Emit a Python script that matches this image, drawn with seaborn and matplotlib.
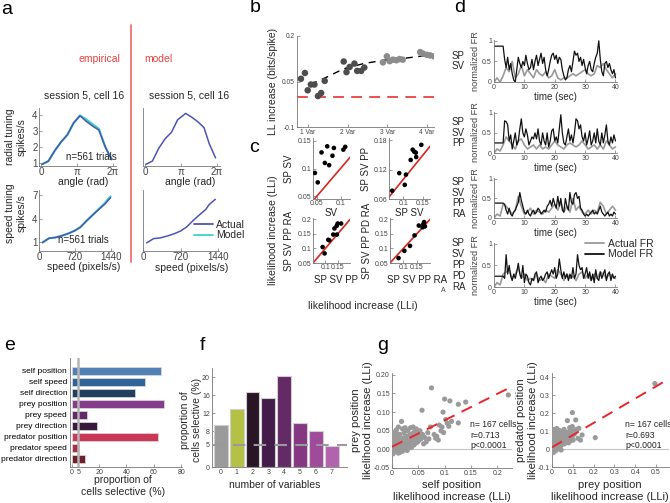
import numpy as np
import matplotlib
matplotlib.use("Agg")
import matplotlib.pyplot as plt
import seaborn as sns
from matplotlib.lines import Line2D

# ---------------- data ----------------
# panel a
ang_x = [0.1, 0.65, 1.2, 1.75, 2.3, 2.85, 3.4, 3.95, 4.5, 5.05, 5.6, 6.15]
rad_emp_actual = [0.9, 1.1, 1.75, 2.3, 2.75, 3.5, 3.95, 3.6, 3.3, 3.05, 2.0, 1.2]
rad_emp_model = [0.9, 1.1, 1.75, 2.3, 2.75, 3.5, 3.97, 3.72, 3.42, 3.12, 2.0, 1.2]
rad_mod_x = [0.1, 0.65, 1.2, 1.75, 2.3, 2.85, 3.55, 4.1, 4.65, 5.15, 5.6, 6.15]
rad_mod_actual = [0.9, 1.1, 1.9, 2.5, 2.9, 3.7, 4.1, 3.85, 3.55, 3.2, 2.2, 1.3]
spd_x = [70, 200, 330, 470, 600, 720, 830, 950, 1080, 1200, 1320, 1430]
spd_emp_actual = [0.9, 1.45, 1.55, 1.8, 2.1, 2.45, 2.9, 3.7, 4.5, 5.2, 5.9, 6.7]
spd_emp_model = [0.9, 1.45, 1.55, 1.8, 2.1, 2.45, 2.9, 3.7, 4.5, 5.28, 6.02, 6.88]
spd_mod_x = [70, 200, 330, 470, 600, 720, 830, 950, 1080, 1200, 1260, 1380]
spd_mod_actual = [0.85, 1.4, 1.5, 1.75, 2.05, 2.4, 2.9, 3.7, 4.5, 5.2, 5.8, 6.5]

# panel b
b_x = [0.82, 0.92, 0.99, 1.07, 1.16, 1.25, 1.33, 1.42,
       1.90, 1.97, 2.05, 2.17, 2.24, 2.34, 2.42,
       2.89, 2.99, 3.06, 3.14, 3.23, 3.31, 3.39,
       3.83, 3.90, 4.00, 4.08, 4.18]
b_y = [0.059, 0.078, 0.021, 0.040, 0.040, 0.002, 0.012, 0.052,
       0.116, 0.081, 0.098, 0.109, 0.085, 0.085, 0.096,
       0.113, 0.133, 0.117, 0.122, 0.120, 0.124, 0.122,
       0.147, 0.142, 0.138, 0.136, 0.133]
b_group = ["low"] * 15 + ["high"] * 12
b_curve_x = [1.06, 1.48, 1.9, 2.4, 2.9, 3.4, 4.0]
b_curve_y = [0.040, 0.065, 0.092, 0.109, 0.120, 0.126, 0.136]
b_ticks = ["1 Var", "2 Var", "3 Var", "4 Var"]

# panel c
c1_x = [0.046, 0.052, 0.060, 0.067, 0.072, 0.076, 0.083, 0.086, 0.106, 0.110]
c1_y = [0.092, 0.075, 0.129, 0.110, 0.140, 0.106, 0.123, 0.137, 0.134, 0.139]
c2_x = [0.072, 0.090, 0.104, 0.107, 0.119, 0.124, 0.128, 0.132, 0.133, 0.146]
c2_y = [0.077, 0.113, 0.089, 0.110, 0.140, 0.161, 0.157, 0.155, 0.146, 0.171]
c3_x = [0.089, 0.097, 0.112, 0.116, 0.132, 0.137, 0.146, 0.150, 0.147, 0.164]
c3_y = [0.105, 0.083, 0.130, 0.128, 0.148, 0.169, 0.178, 0.186, 0.148, 0.186]
c4_x = [0.082, 0.104, 0.125, 0.142, 0.158, 0.172, 0.178, 0.175, 0.181]
c4_y = [0.067, 0.092, 0.109, 0.145, 0.179, 0.173, 0.191, 0.184, 0.176]

# panel d (model: 0.5 s samples, actual: 1 s samples)
d1_model = [0.87, 0.87, 0.87, 0.87, 0.87, 0.87, 0.87,
            0.55, 0.35, 0.6, 0.3, 0.45, 0.2, 0.05, 0.0, 0.3, 0.6, 0.45, 0.35, 0.5, 0.4, 0.65,
            0.45, 0.3, 0.35, 0.55, 0.3, 0.5, 0.65, 0.4, 0.55, 0.7, 0.45, 0.6, 0.3, 0.15, 0.3,
            0.5, 0.65, 0.7, 0.55, 0.65, 0.45, 0.6, 0.55, 0.3, 0.15, 0.05, 0.1, 0.3, 0.4, 0.25,
            0.5, 0.75, 0.65, 0.7, 0.5, 0.6, 0.4, 0.55, 0.35, 0.2, 0.4, 0.5, 0.3, 0.25, 0.45,
            0.6, 0.7, 1.0, 0.55, 0.25, 0.15, 0.45, 0.5, 0.35, 0.45, 0.3, 0.2, 0.3, 0.1]
d1_actual = [0, 0.1, 0.0, 0.15, 0.35, 0.25, 0.5, 0.1, 0.2, 0.4, 0.15, 0.3, 0.2, 0.1, 0.3,
             0.2, 0.15, 0.25, 0.1, 0.15, 0.3, 0.1, 0.05, 0.1, 0.1, 0.15, 0.2, 0.15, 0.2, 0.25,
             0.3, 0.2, 0.15, 0.2, 0.4, 0.35, 0.45, 0.3, 0.2, 0.1, 0.2]
d2_model = [0.25, 0.25, 0.25, 0.25, 0.25, 0.25, 0.25,
            0.8, 0.78, 0.7, 0.3, 0.45, 0.1, 0.3, 0.5, 0.2, 0.3, 0.6, 0.85, 0.5, 0.4, 0.6,
            0.45, 0.2, 0.3, 0.4, 0.35, 0.5, 0.35, 0.6, 0.3, 0.2, 0.5, 0.3, 0.2, 0.5, 0.15,
            0.3, 0.55, 0.6, 0.3, 0.4, 0.25, 0.6, 0.95, 0.5, 0.25, 0.2, 0.4, 0.6, 0.3, 0.45,
            0.25, 0.5, 0.85, 0.8, 0.6, 0.7, 0.4, 0.3, 0.5, 0.2, 0.35, 0.55, 0.2, 0.3, 0.5,
            0.25, 0.6, 0.3, 0.2, 0.5, 0.25, 0.45, 0.7, 0.3, 0.2, 0.4, 0.25, 0.45, 0.3]
d2_actual = [0, 0.1, 0.05, 0.2, 0.4, 0.3, 0.2, 0.1, 0.3, 0.35, 0.2, 0.1, 0.15, 0.2, 0.1,
             0.2, 0.1, 0.15, 0.1, 0.2, 0.3, 0.2, 0.15, 0.1, 0.2, 0.25, 0.2, 0.15, 0.2, 0.3,
             0.2, 0.1, 0.15, 0.2, 0.1, 0.2, 0.1, 0.3, 0.2, 0.1, 0.15]
d3_model = [0.38, 0.38, 0.38, 0.38, 0.38, 0.38, 0.38,
            0.35, 0.2, 0.1, 0.25, 0.1, 0.05, 0.15, 0.2, 0.3, 0.4, 0.65, 0.45, 0.3, 0.15, 0.1,
            0.2, 0.1, 0.05, 0.15, 0.2, 0.1, 0.15, 0.25, 0.2, 0.1, 0.15, 0.2, 0.15, 0.3, 0.35,
            0.45, 0.3, 0.5, 0.35, 0.25, 0.55, 0.3, 0.5, 0.2, 0.15, 0.5, 0.3, 0.2, 0.65, 0.4,
            0.35, 0.6, 0.65, 0.5, 0.55, 0.25, 0.2, 0.1, 0.05, 0.1, 0.05, 0.1, 0.15, 0.2, 0.1,
            0.15, 0.1, 0.2, 0.3, 0.15, 0.1, 0.05, 0.1, 0.15, 0.05, 0.1, 0.05, 0.15, 0.1]
d3_actual = [0, 0.1, 0.05, 0.35, 0.3, 0.2, 0.1, 0.2, 0.55, 0.3, 0.1, 0.15, 0.25, 0.1, 0.2,
             0.15, 0.1, 0.2, 0.15, 0.25, 0.35, 0.2, 0.4, 0.15, 0.3, 0.15, 0.5, 0.2, 0.3, 0.15,
             0.1, 0.2, 0.1, 0.2, 0.15, 0.4, 0.3, 0.1, 0.2, 0.3, 0.2]
d4_model = [0.25, 0.25, 0.25, 0.25, 0.25, 0.25, 0.25,
            0.2, 0.75, 0.3, 0.5, 0.25, 0.15, 0.3, 0.2, 0.35, 0.55, 0.3, 0.2, 0.5, 0.1, 0.3,
            0.25, 0.1, 0.05, 0.2, 0.15, 0.3, 0.35, 0.1, 0.2, 0.25, 0.15, 0.2, 0.3, 0.35, 0.2,
            0.3, 0.4, 0.3, 0.45, 0.2, 0.3, 0.65, 0.4, 0.2, 0.35, 0.2, 0.3, 0.15, 0.3, 0.2,
            0.45, 0.2, 0.3, 0.75, 0.5, 0.4, 0.45, 0.2, 0.3, 0.45, 0.2, 0.35, 0.15, 0.3, 0.1,
            0.4, 0.2, 0.15, 0.35, 0.2, 0.3, 0.4, 0.15, 0.3, 0.35, 0.15, 0.3, 0.2, 0.25]
d4_actual = [0, 0.1, 0.05, 0.3, 0.35, 0.4, 0.2, 0.3, 0.45, 0.2, 0.3, 0.15, 0.2, 0.15, 0.3,
             0.15, 0.2, 0.1, 0.3, 0.25, 0.2, 0.4, 0.3, 0.15, 0.3, 0.2, 0.25, 0.15, 0.3, 0.35,
             0.2, 0.3, 0.15, 0.3, 0.2, 0.35, 0.3, 0.2, 0.3, 0.25, 0.2]
d_labels = ["SP\nSV", "SP\nSV\nPP", "SP\nSV\nPP\nRA", "SP\nSV\nPP\nPD\nRA"]

# panel e
e_names = ["self position", "self speed", "self direction", "prey position", "prey speed",
           "prey direction", "predator position", "predator speed", "predator direction"]
e_vals = [65.5, 53.8, 46.5, 67.6, 10.9, 18.7, 63.3, 5.6, 9.7]
e_colors = ["#3f7fc6", "#1f62aa", "#183f6a", "#912e9b", "#6b2070", "#3e1443",
            "#e2204b", "#b81d3a", "#7c1222"]
e_chance = 5

# panel f
f_labels = ["0", "1", "2", "3", "4", "5", "6", "7"]
f_vals = [9.3, 12.8, 16.6, 15.3, 20.2, 9.8, 8.0, 4.6]
f_colors = ["#9b9b9b", "#c6d62f", "#2b1329", "#4a1550", "#6c206f", "#922a8f", "#ad3ca6", "#c155b8"]
f_chance = 5

# panel g
g1_x = [0.001, 0.002, 0.003, 0.004, 0.005, 0.006, 0.007, 0.008, 0.009, 0.010, 0.011, 0.012, 0.013,
        0.014, 0.015, 0.016, 0.017, 0.018, 0.019, 0.020, 0.021, 0.022, 0.023, 0.024, 0.025, 0.026,
        0.027, 0.028, 0.029, 0.030, 0.031, 0.032, 0.033, 0.034, 0.035, 0.036, 0.037, 0.038, 0.039,
        0.040, 0.041, 0.042, 0.043, 0.044, 0.045, 0.046, 0.047, 0.048, 0.049, 0.050, 0.052, 0.053,
        0.055, 0.057, 0.058, 0.060, 0.062, 0.065, 0.068, 0.070, 0.073, 0.075, 0.080, 0.083, 0.085,
        0.088, 0.090, 0.093, 0.095, 0.097, 0.098, 0.100, 0.102, 0.105, 0.108, 0.110, 0.113, 0.126,
        0.126, 0.140, 0.221, 0.003, 0.008, 0.012, 0.002, 0.015, 0.005, 0.020, 0.025, 0.010]
g1_y = [0.005, 0.020, -0.008, 0.030, 0.012, -0.002, 0.025, 0.008, 0.035, 0.000, 0.018, -0.010, 0.028,
        0.010, 0.040, 0.003, 0.022, 0.075, 0.015, -0.005, 0.030, 0.008, 0.045, 0.018, 0.002, 0.035,
        0.012, 0.025, -0.003, 0.050, 0.020, 0.008, 0.038, 0.015, 0.058, 0.028, 0.005, 0.042, 0.020,
        0.060, 0.032, 0.012, 0.048, 0.025, 0.038, 0.055, 0.018, 0.030, 0.045, 0.022, 0.035, 0.050,
        0.028, 0.105, 0.040, 0.015, 0.032, 0.020, 0.045, 0.028, 0.060, 0.165, 0.040, 0.030, 0.035,
        0.025, 0.065, 0.050, 0.060, 0.100, 0.045, 0.135, 0.080, 0.070, 0.062, 0.130, 0.075, 0.121,
        0.071, 0.127, 0.146, 0.045, 0.052, 0.060, -0.012, -0.008, 0.038, 0.055, 0.058, 0.042]
g1_fit = (0.007, 0.71)
g2_x = [0.002, 0.004, 0.005, 0.006, 0.008, 0.010, 0.011, 0.012, 0.014, 0.015, 0.016, 0.018, 0.019,
        0.020, 0.021, 0.022, 0.024, 0.025, 0.026, 0.028, 0.029, 0.030, 0.031, 0.032, 0.034, 0.035,
        0.036, 0.037, 0.038, 0.040, 0.041, 0.042, 0.043, 0.045, 0.046, 0.047, 0.048, 0.050, 0.051,
        0.052, 0.053, 0.055, 0.056, 0.057, 0.058, 0.060, 0.061, 0.062, 0.063, 0.065, 0.066, 0.068,
        0.070, 0.071, 0.072, 0.074, 0.075, 0.077, 0.078, 0.080, 0.082, 0.084, 0.085, 0.087, 0.088,
        0.090, 0.092, 0.095, 0.098, 0.098, 0.100, 0.102, 0.105, 0.108, 0.114, 0.118, 0.125, 0.129,
        0.137, 0.145, 0.208, 0.495, 0.003, 0.006, 0.009, 0.013, 0.017, 0.023, 0.027, 0.033, 0.039,
        0.044]
g2_y = [0.000, 0.030, -0.015, 0.060, 0.015, 0.095, 0.040, -0.005, 0.070, 0.020, 0.050, 0.100, 0.005,
        0.035, 0.080, 0.060, 0.025, 0.045, 0.090, 0.010, 0.065, 0.040, 0.075, 0.020, 0.055, 0.085,
        0.030, 0.050, 0.068, 0.015, 0.045, 0.080, 0.060, 0.035, 0.090, 0.055, 0.025, 0.070, 0.045,
        0.100, 0.060, 0.040, 0.080, 0.050, 0.110, 0.065, 0.030, 0.090, 0.055, 0.075, 0.045, 0.060,
        0.085, 0.040, 0.070, 0.159, 0.050, 0.095, 0.065, 0.035, 0.080, 0.055, 0.120, 0.070, 0.045,
        0.090, 0.060, 0.105, 0.204, 0.126, 0.075, 0.050, 0.095, 0.085, 0.163, 0.110, 0.060, 0.116,
        0.050, 0.079, 0.064, 0.366, 0.080, -0.020, 0.025, 0.110, -0.010, 0.115, 0.000, 0.105, 0.100,
        -0.005]
g2_fit = (0.01, 0.68)
g_stats = ["n= 167 cells\nr=0.713\np<0.0001", "n= 167 cells\nr=0.693\np<0.0001"]

# ---------------- figure ----------------
sns.set_theme(style="ticks")
plt.rcParams["font.family"] = ["Liberation Sans", "DejaVu Sans"]
W, H = 670, 503
fig = plt.figure(figsize=(6.7, 5.03), dpi=100)
fig.patch.set_facecolor("white")


def AX(l, t, r, b):
    return fig.add_axes([l / W, 1 - b / H, (r - l) / W, (b - t) / H])


def T(x, y, s, **kw):
    kw.setdefault("ha", "center")
    kw.setdefault("va", "center")
    return fig.text(x / W, 1 - y / H, s, **kw)


def style(ax, fs=5.0, pad=1.5):
    sns.despine(ax=ax)
    for s in ["left", "bottom"]:
        ax.spines[s].set_color("#777777")
        ax.spines[s].set_linewidth(0.6)
    ax.tick_params(direction="in", length=2, width=0.5, labelsize=fs, colors="#777777",
                   labelcolor="#444444", pad=pad)
    ax.set_xlabel("")
    ax.set_ylabel("")
    ax.set_facecolor("none")


BLUE = "#4b55b3"
TEAL = "#3fd2c2"
RED = "#e8413f"

# letters
for lx, ly, s in [(7, 9, "a"), (255, 8, "b"), (254, 147, "c"), (460, 8, "d"),
                  (10, 345, "e"), (202, 345, "f"), (383, 345, "g")]:
    T(lx, ly, s, fontsize=14, color="black")

# ---------------- panel a ----------------
fig.add_artist(Line2D([131 / W, 131 / W], [1 - 25 / H, 1 - 262 / H], color="#f07070", lw=1.3))
T(99, 59, "empirical", fontsize=7.5, color=RED)
T(158, 59, "model", fontsize=7.5, color=RED)
T(84, 95, "session 5, cell 16", fontsize=7.5)
T(189, 95, "session 5, cell 16", fontsize=7.5)

ax = AX(39, 108, 116, 166)
sns.lineplot(x=ang_x, y=rad_emp_model, color=TEAL, lw=1.6, ax=ax)
sns.lineplot(x=ang_x, y=rad_emp_actual, color=BLUE, lw=1.1, ax=ax)
ax.set_xlim(-0.17, 6.54)
ax.set_ylim(0.79, 4.44)
ax.set_xticks([0, np.pi, 2 * np.pi], ["0", "π", "2π"])
ax.set_yticks([1, 2, 3, 4])
style(ax, fs=7, pad=1)
ax.text(0.68, 0.15, "n=561 trials", transform=ax.transAxes, fontsize=7, ha="center", va="center")

ax = AX(143, 108, 220, 166)
sns.lineplot(x=rad_mod_x, y=rad_mod_actual, color=BLUE, lw=1.1, ax=ax)
ax.set_xlim(-0.17, 6.54)
ax.set_ylim(0.79, 4.44)
ax.set_xticks([0, np.pi, 2 * np.pi], ["0", "π", "2π"])
ax.set_yticks([])
style(ax, fs=7, pad=1)

T(83, 182, "angle (rad)", fontsize=7.5)
T(190, 182, "angle (rad)", fontsize=7.5)
T(16, 137, "radial tuning\nspikes/s", fontsize=7.5, rotation=90, linespacing=1.2)

ax = AX(39, 190, 113, 251)
sns.lineplot(x=spd_x, y=spd_emp_model, color=TEAL, lw=1.6, ax=ax)
sns.lineplot(x=spd_x, y=spd_emp_actual, color=BLUE, lw=1.1, ax=ax)
ax.set_xlim(0, 1480)
ax.set_ylim(-0.2, 7.7)
ax.set_xticks([0, 720, 1440])
ax.set_yticks([1, 4, 7])
style(ax, fs=7, pad=1)
ax.text(0.6, 0.18, "n=561 trials", transform=ax.transAxes, fontsize=7, ha="center", va="center")

ax = AX(143, 190, 219, 251)
sns.lineplot(x=spd_mod_x, y=spd_mod_actual, color=BLUE, lw=1.1, ax=ax)
ax.set_xlim(0, 1450)
ax.set_ylim(-0.2, 7.7)
ax.set_xticks([0, 720, 1440])
ax.set_yticks([])
style(ax, fs=7, pad=1)

T(84, 267, "speed (pixels/s)", fontsize=7.5)
T(192, 268, "speed (pixels/s)", fontsize=7.5)
T(16, 213, "speed tuning\nspikes/s", fontsize=7.5, rotation=90, linespacing=1.2)
fig.legend([Line2D([], [], color=BLUE, lw=1.3), Line2D([], [], color=TEAL, lw=1.3)],
           ["Actual", "Model"], loc="center left", bbox_to_anchor=(194 / W, 1 - 230 / H),
           frameon=False, fontsize=7.5, handlelength=1.8, handletextpad=0.3,
           labelspacing=0.05, borderpad=0, borderaxespad=0)

# ---------------- panel b ----------------
ax = AX(297, 36, 434, 127)
ax.axhline(0, color="#e8413f", lw=1.3, dashes=(6, 4))
sns.lineplot(x=b_curve_x, y=b_curve_y, color="black", lw=1.0, ax=ax, dashes=False)
ax.lines[-1].set_dashes((5, 4))
sns.scatterplot(x=b_x, y=b_y, hue=b_group, palette={"low": "#4d4d4d", "high": "#8c8c8c"},
                s=22, edgecolor="none", legend=False, ax=ax, zorder=3)
ax.set_xlim(0.72, 4.18)
ax.set_ylim(-0.1, 0.2)
ax.set_xticks([1, 2, 3, 4], b_ticks)
ax.set_yticks([-0.1, 0.05, 0.2], ["-0.1", "0.05", "0.2"])
style(ax, fs=4.8)
T(273, 81, "LL increase (bits/spike)", fontsize=7.5, rotation=90)

# ---------------- panel c ----------------
CRED = "#d7261e"
c_specs = [
    ((313, 138, 350, 199), c1_x, c1_y, (0.042, 0.12), (0.045, 0.155), [0.05, 0.1], ["0.05", "0.1"],
     [0.05, 0.1, 0.15], ["0.05", "0.1", "0.15"], "SV", "SP SV", (331, 213), (289, 169)),
    ((389, 138, 430, 199), c2_x, c2_y, (0.064, 0.168), (0.06, 0.185), [0.1, 0.15], ["0.1", "0.15"],
     [0.06, 0.12, 0.18], ["0.06", "0.12", "0.18"], "SP SV", "SP SV PP", (409, 213), (366, 169)),
    ((313, 218, 350, 263), c3_x, c3_y, (0.05, 0.2), (0.05, 0.205), [0.1, 0.15], ["0.1", "0.15"],
     [0.05, 0.1, 0.15, 0.2], ["0.05", "0.1", "0.15", "0.2"], "SP SV PP", "SP SV PP RA",
     (336, 280), (289, 241)),
    ((390, 218, 430, 263), c4_x, c4_y, (0.05, 0.2), (0.05, 0.205), [0.1, 0.15], ["0.1", "0.15"],
     [0.05, 0.1, 0.15, 0.2], ["0.05", "0.1", "0.15", "0.2"], "SP SV PP RA", "SP SV PP PD RA",
     (417, 280), (367, 241)),
]
for rect, cx, cy, xl, yl, xt, xtl, yt, ytl, xlab, ylab, xpos, ypos in c_specs:
    ax = AX(*rect)
    ax.axline((0, 0), slope=1, color=CRED, lw=1.2)
    sns.scatterplot(x=cx, y=cy, color="black", s=11, edgecolor="none", ax=ax, zorder=3)
    ax.set_xlim(*xl)
    ax.set_ylim(*yl)
    ax.set_xticks(xt, xtl)
    ax.set_yticks(yt, ytl)
    style(ax, fs=5, pad=1)
    T(xpos[0], xpos[1], xlab, fontsize=7, color="#222222")
    T(ypos[0], ypos[1], ylab, fontsize=7, color="#222222", rotation=90)
T(273, 230, "likelihood increase (LLi)", fontsize=7.5, rotation=90)
T(363, 306, "likelihood increase (LLi)", fontsize=7.5)

# ---------------- panel d ----------------
d_rects = [(494, 40, 617, 82), (494, 112, 617, 153), (494, 178, 617, 218), (494, 243, 617, 287)]
d_model = [d1_model, d2_model, d3_model, d4_model]
d_actual = [d1_actual, d2_actual, d3_actual, d4_actual]
for i, rect in enumerate(d_rects):
    ax = AX(*rect)
    ya = d_actual[i]
    ym = d_model[i]
    sns.lineplot(x=np.arange(len(ya)) * 1.0, y=ya, color="#9a9a9a", lw=1.2, ax=ax)
    sns.lineplot(x=np.arange(len(ym)) * 0.5, y=ym, color="#111111", lw=0.9, ax=ax)
    ax.set_xlim(0, 40.5)
    ax.set_ylim(0, 1.02)
    ax.set_xticks([0, 10, 20, 30, 40])
    ax.set_yticks([0, 0.5, 1], ["0", "0.5", "1"])
    style(ax, fs=5)
    ax.set_xlabel("time (sec)", fontsize=7, labelpad=1)
    ax.set_ylabel("normalized FR", fontsize=6.6, labelpad=1.5, color="#444444")
    cy = (rect[1] + rect[3]) / 2
    T(452, cy, d_labels[i], fontsize=7, ha="left", linespacing=1.1)
T(443, 290, "A", fontsize=5, color="#444444")
fig.legend([Line2D([], [], color="#9a9a9a", lw=1.3), Line2D([], [], color="#111111", lw=1.3)],
           ["Actual FR", "Model FR"], loc="center left", bbox_to_anchor=(585 / W, 1 - 249 / H),
           frameon=False, fontsize=7.5, handlelength=1.8, handletextpad=0.4,
           labelspacing=0.05, borderpad=0, borderaxespad=0)

# ---------------- panel e ----------------
ax = AX(70, 358, 182, 467)
sns.barplot(x=e_vals, y=e_names, hue=e_names, palette=e_colors, legend=False, orient="h",
            width=0.75, edgecolor="#dddddd", linewidth=0.5, ax=ax)
ax.axvline(e_chance, color="#b5b5b5", lw=1.8, zorder=5)
ax.set_xlim(-1.2, 80.5)
ax.set_ylim(8.73, -1.15)
ax.set_xticks([0, 5, 20, 40, 60, 80])
style(ax, fs=5)
ax.tick_params(axis="y", length=0, labelsize=6.0, labelcolor="black", pad=2)
T(123, 486, "proportion of\ncells selective (%)", fontsize=7.5, linespacing=1.2)

# ---------------- panel f ----------------
ax = AX(212, 368, 347, 467)
sns.barplot(x=f_labels, y=f_vals, hue=f_labels, palette=f_colors, legend=False,
            width=0.88, edgecolor="#cfcfcf", linewidth=0.8, ax=ax)
ax.axhline(f_chance, color="#9a9a9a", lw=1.5, dashes=(6, 4), zorder=5)
ax.set_xlim(-0.55, 7.95)
ax.set_ylim(0, 22)
ax.set_yticks([0, 5, 8, 12, 16, 20])
style(ax, fs=5)
T(191, 420, "proportion of\ncells selective (%)", fontsize=7.5, rotation=90, linespacing=1.2)
T(275, 485, "number of variables", fontsize=7.5)

# ---------------- panel g ----------------
g_specs = [
    ((392, 373, 512, 468), g1_x, g1_y, g1_fit, (0, 0.228), (-0.05, 0.205),
     [0, 0.05, 0.1, 0.15, 0.2], ["0", "0.05", "0.1", "0.15", "0.2"],
     [-0.05, 0, 0.05, 0.1, 0.15, 0.2], ["-0.05", "0.00", "0.05", "0.10", "0.15", "0.20"],
     "self position\nlikelihood increase (LLi)", (452, 491),
     "prey position\nlikelihood increase (LLi)", (362, 420), (470, 435), g_stats[0]),
    ((552, 373, 669, 467), g2_x, g2_y, g2_fit, (0, 0.563), (-0.1, 0.425),
     [0, 0.1, 0.2, 0.3, 0.4, 0.5], ["0", "0.1", "0.2", "0.3", "0.4", "0.5"],
     [-0.1, 0, 0.1, 0.2, 0.3, 0.4], ["-0.1", "0", "0.1", "0.2", "0.3", "0.4"],
     "prey position\nlikelihood increase (LLi)", (610, 491),
     "predator position\nlikelihood increase (LLi)", (527, 420), (625, 435), g_stats[1]),
]
for (rect, gx, gy, fit, xl, yl, xt, xtl, yt, ytl, xlab, xlp, ylab, ylp, stp, stats) in g_specs:
    ax = AX(*rect)
    ax.axhline(0, color="#c4c4c4", lw=0.8)
    sns.scatterplot(x=gx, y=gy, color="#9a9a9a", s=14, edgecolor="none", ax=ax, zorder=3)
    ax.axline((0, fit[0]), slope=fit[1], color="#e8262b", lw=1.4, dashes=(6, 4), zorder=4)
    ax.set_xlim(*xl)
    ax.set_ylim(*yl)
    ax.set_xticks(xt, xtl)
    ax.set_yticks(yt, ytl)
    style(ax, fs=5)
    T(xlp[0], xlp[1], xlab, fontsize=8, linespacing=1.2)
    T(ylp[0], ylp[1], ylab, fontsize=8, rotation=90, linespacing=1.2)
    T(stp[0], stp[1], stats, fontsize=6.2, ha="left", linespacing=1.25, color="#222222")

fig.savefig("out.png", dpi=100, facecolor="white")
